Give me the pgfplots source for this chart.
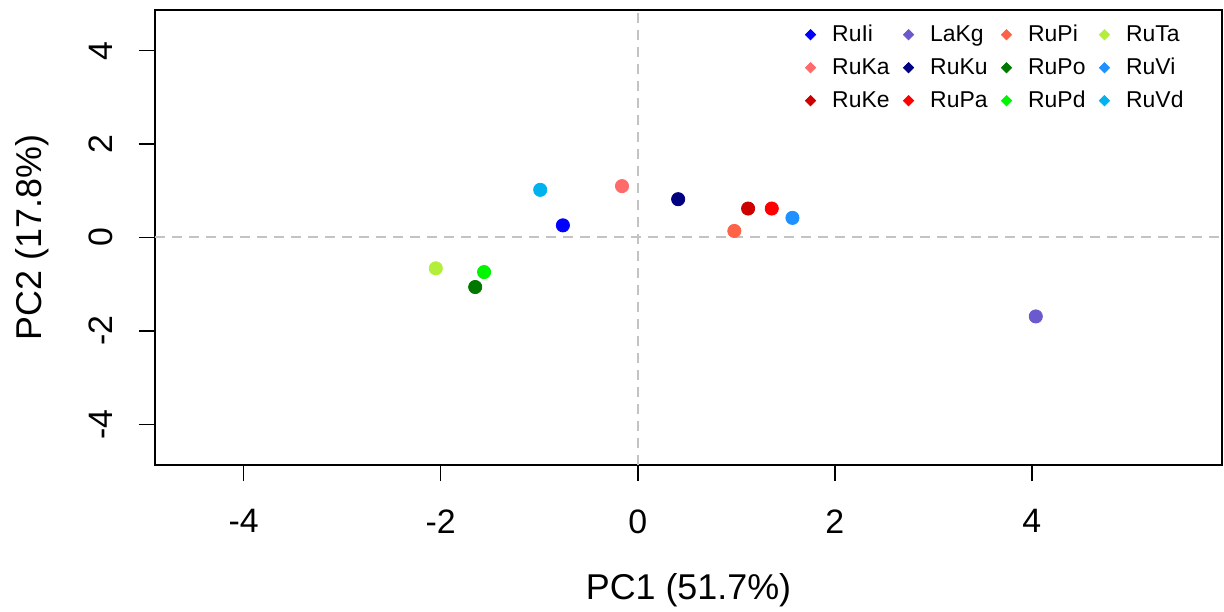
\documentclass[border=0pt]{standalone}
\usepackage{fontspec}
\setmainfont{Liberation Sans}
\usepackage{pgfplots}
\pgfplotsset{compat=1.18}
\definecolor{cRuIi}{RGB}{0,0,255}
\definecolor{cLaKg}{RGB}{106,90,205}
\definecolor{cRuPi}{RGB}{255,99,71}
\definecolor{cRuTa}{RGB}{179,238,58}
\definecolor{cRuKa}{RGB}{255,106,106}
\definecolor{cRuKu}{RGB}{0,0,128}
\definecolor{cRuPo}{RGB}{0,120,0}
\definecolor{cRuVi}{RGB}{30,144,255}
\definecolor{cRuKe}{RGB}{205,0,0}
\definecolor{cRuPa}{RGB}{255,0,0}
\definecolor{cRuPd}{RGB}{0,245,0}
\definecolor{cRuVd}{RGB}{0,178,238}
\definecolor{refgray}{RGB}{195,195,195}
\newcommand{\LE}[1]{\makebox[35.6bp][l]{\rule[-2.5bp]{0pt}{11bp}#1}}
\begin{document}
\begin{tikzpicture}
\useasboundingbox (0,0) rectangle (612bp,306bp);
\begin{axis}[
  at={(77.5bp,73.5bp)}, anchor=south west,
  scale only axis, width=533.5bp, height=227.5bp,
  xmin=-4.90, xmax=5.93, ymin=-4.87, ymax=4.87,
  axis line style={line width=0.75bp},
  xtick={-4,-2,0,2,4}, ytick={-4,-2,0,2,4},
  tick align=outside, xtick pos=bottom, ytick pos=left,
  major tick length=8bp, tick style={black, line width=0.75bp},
  ticklabel style={font=\fontsize{17}{20}\selectfont},
  /pgf/number format/assume math mode=true,
  xticklabel style={anchor=north, inner sep=0pt},
  yticklabel style={rotate=90, anchor=south, inner sep=0pt},
  xticklabel shift=14bp, yticklabel shift=13bp,
  xlabel={PC1 (51.7\%)}, ylabel={PC2 (17.8\%)},
  xlabel style={at={(axis description cs:0.5,-0.2747)}, anchor=center, inner sep=0pt, font=\fontsize{18}{21}\selectfont},
  ylabel style={at={(axis description cs:-0.1153,0.5)}, anchor=center, inner sep=0pt, rotate=0, font=\fontsize{18}{21}\selectfont},
  legend columns=4,
  legend cell align=left,
  legend image code/.code={\draw[#1, mark=square*, mark size=1.8bp, mark options={rotate=45}] plot coordinates {(0bp,0bp)};},
  legend style={draw=none, fill=none, inner sep=0pt, outer sep=0pt,
    at={(axis description cs:0.6096,0.9677)}, anchor=north west,
    row sep=6.5bp, column sep=0pt,
    /tikz/every odd column/.append style={column sep=8.3bp},
    font=\fontsize{11.5}{13}\selectfont, nodes={inner sep=0pt}},
]
\draw[refgray, line width=1bp, dash pattern=on 5bp off 3.5bp] (axis cs:0,-4.87) -- (axis cs:0,4.87);
\draw[refgray, line width=1bp, dash pattern=on 5bp off 3.5bp] (axis cs:-4.90,0) -- (axis cs:5.93,0);
\addplot[only marks, mark=*, mark size=3.3bp, color=cRuIi] coordinates {(-0.76,0.26)};
\addlegendentry{\LE{RuIi}}
\addplot[only marks, mark=*, mark size=3.3bp, color=cLaKg] coordinates {(4.04,-1.69)};
\addlegendentry{\LE{LaKg}}
\addplot[only marks, mark=*, mark size=3.3bp, color=cRuPi] coordinates {(0.98,0.14)};
\addlegendentry{\LE{RuPi}}
\addplot[only marks, mark=*, mark size=3.3bp, color=cRuTa] coordinates {(-2.05,-0.66)};
\addlegendentry{\LE{RuTa}}
\addplot[only marks, mark=*, mark size=3.3bp, color=cRuKa] coordinates {(-0.16,1.10)};
\addlegendentry{\LE{RuKa}}
\addplot[only marks, mark=*, mark size=3.3bp, color=cRuKu] coordinates {(0.41,0.82)};
\addlegendentry{\LE{RuKu}}
\addplot[only marks, mark=*, mark size=3.3bp, color=cRuPo] coordinates {(-1.65,-1.06)};
\addlegendentry{\LE{RuPo}}
\addplot[only marks, mark=*, mark size=3.3bp, color=cRuVi] coordinates {(1.57,0.42)};
\addlegendentry{\LE{RuVi}}
\addplot[only marks, mark=*, mark size=3.3bp, color=cRuKe] coordinates {(1.12,0.62)};
\addlegendentry{\LE{RuKe}}
\addplot[only marks, mark=*, mark size=3.3bp, color=cRuPa] coordinates {(1.36,0.62)};
\addlegendentry{\LE{RuPa}}
\addplot[only marks, mark=*, mark size=3.3bp, color=cRuPd] coordinates {(-1.56,-0.74)};
\addlegendentry{\LE{RuPd}}
\addplot[only marks, mark=*, mark size=3.3bp, color=cRuVd] coordinates {(-0.99,1.02)};
\addlegendentry{\LE{RuVd}}
\end{axis}
\end{tikzpicture}
\end{document}
